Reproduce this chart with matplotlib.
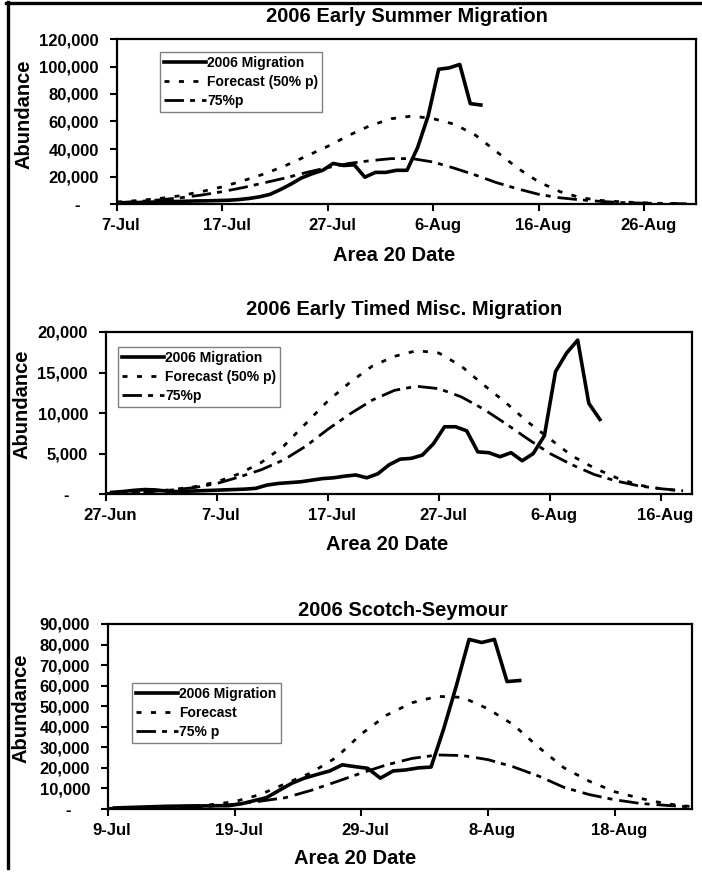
import matplotlib
matplotlib.use('Agg')
import matplotlib.pyplot as plt
import matplotlib.transforms as mtransforms
from matplotlib.lines import Line2D
import numpy as np
import pandas as pd

plt.rcParams['font.family'] = ['Liberation Sans', 'DejaVu Sans']
plt.rcParams['font.weight'] = 'bold'

# ---- 2006 Early Summer (start 7-Jul) ----
es_start = '2006-07-07'
es_mig = [800, 1000, 1200, 1400, 1600, 1800, 2000, 2200, 2300, 2500,
          2700, 3200, 4000, 5200, 7000, 10500, 14500, 19000, 22000, 24500,
          29500, 28000, 28500, 19500, 23000, 23000, 24500, 24500, 41000, 64000,
          98000, 99000, 101500, 73000, 72000]
es_fc = [1500, 2500, 4000, 6000, 9000, 12500, 17000, 22000, 28000, 35000,
         42000, 50000, 57000, 62000, 64000, 62000, 58000, 50000, 38000, 26000,
         16000, 9000, 4500, 2500, 1500, 800, 400, 300]
es_75 = [1000, 1800, 3000, 4500, 6500, 9000, 12000, 15500, 19000, 23000,
         26500, 29500, 31500, 33000, 33000, 30500, 26000, 21000, 15500, 11000,
         7000, 4500, 3000, 1800, 1000, 600, 300, 200]

# ---- 2006 Early Timed Misc. (start 27-Jun) ----
et_start = '2006-06-27'
et_mig = [200, 300, 450, 550, 500, 350, 300, 350, 400, 450,
          500, 550, 600, 700, 1100, 1300, 1400, 1500, 1700, 1900,
          2000, 2200, 2350, 2000, 2500, 3600, 4300, 4400, 4800, 6200,
          8300, 8300, 7800, 5200, 5100, 4600, 5100, 4100, 5000, 7200,
          15100, 17400, 19000, 11200, 9200]
et_fc = [50, 150, 300, 550, 900, 1500, 2500, 3900, 5900, 8700,
         11500, 13800, 15800, 17000, 17700, 17400, 15800, 13500, 11300, 8900,
         6800, 4700, 3200, 2000, 1100, 650, 350]
et_75 = [50, 150, 300, 500, 800, 1300, 2100, 3000, 4200, 5900,
         8000, 9900, 11600, 12800, 13300, 13000, 12000, 10500, 8700, 6800,
         5000, 3600, 2400, 1600, 1000, 650, 400]

# ---- 2006 Scotch-Seymour (start 9-Jul) ----
ss_start = '2006-07-09'
ss_mig = [500, 700, 900, 1100, 1300, 1400, 1500, 1500, 1600, 1600,
          2500, 4000, 5500, 9000, 12500, 15000, 16800, 18500, 21500, 20600,
          19800, 15000, 18500, 19000, 20000, 20400, 39000, 60000, 82500, 81000,
          82500, 62000, 62500]
ss_fc = [300, 500, 800, 1200, 2000, 3600, 7000, 12300, 17500, 25000,
         36500, 45700, 51700, 54800, 54300, 48700, 41000, 30000, 20000, 13500,
         8400, 5200, 2600, 1200]
ss_75 = [200, 300, 500, 800, 1300, 2300, 3800, 5500, 9000, 13200,
         17500, 21500, 24600, 26300, 26000, 24000, 20500, 16000, 10500, 7000,
         4500, 2700, 1800, 1000]

panels = [
    dict(title='2006 Early Summer Migration', start=es_start, mig=es_mig, fc=es_fc, p75=es_75,
         labels=['2006 Migration', 'Forecast (50% p)', '75%p'],
         ymax=120000, ystep=20000, xdays=54.9,
         box=(117, 39, 696, 204), title_xy=(407, 17), xlab_xy=(394, 255), ylab_xy=(24, 114),
         leg=(0.074, 0.921)),
    dict(title='2006 Early Timed Misc. Migration', start=et_start, mig=et_mig, fc=et_fc, p75=et_75,
         labels=['2006 Migration', 'Forecast (50% p)', '75%p'],
         ymax=20000, ystep=5000, xdays=52.8,
         box=(106, 332, 692, 494), title_xy=(404, 309), xlab_xy=(387, 545), ylab_xy=(22, 404),
         leg=(0.020, 0.907)),
    dict(title='2006 Scotch-Seymour', start=ss_start, mig=ss_mig, fc=ss_fc, p75=ss_75,
         labels=['2006 Migration', 'Forecast', '75% p'],
         ymax=90000, ystep=10000, xdays=46.1,
         box=(108, 624, 692, 809), title_xy=(403, 611), xlab_xy=(355, 859), ylab_xy=(21, 708),
         leg=(0.041, 0.681)),
]

W, H = 702, 873
fig = plt.figure(figsize=(W / 100, H / 100), dpi=100)

fc_dash = (0, (1.8, 3.4))
p75_dash = (0, (7.0, 2.2, 1.8, 2.5))

for p in panels:
    l, t, r, b = p['box']
    ax = fig.add_axes([l / W, 1 - b / H, (r - l) / W, (b - t) / H])
    start = pd.Timestamp(p['start'])
    mig_x = pd.date_range(start, periods=len(p['mig']), freq='D') + pd.Timedelta(hours=12)
    fc_x = pd.date_range(start, periods=len(p['fc']), freq='2D')

    h1, = ax.plot(mig_x, p['mig'], color='black', lw=2.6, solid_joinstyle='round')
    h2, = ax.plot(fc_x, p['fc'], color='black', lw=2.0, linestyle=fc_dash)
    h3, = ax.plot(fc_x, p['p75'], color='black', lw=2.0, linestyle=p75_dash)

    ax.set_xlim(start, start + pd.Timedelta(days=p['xdays']))
    ax.set_ylim(0, p['ymax'])

    xt = pd.date_range(start, start + pd.Timedelta(days=p['xdays']), freq='10D')
    ax.set_xticks(xt)
    ax.set_xticklabels([f"{d.day}-{d.strftime('%b')}" for d in xt])
    yt = np.arange(0, p['ymax'] + 1, p['ystep'])
    ax.set_yticks(yt)
    ax.set_yticklabels(['-    '] + [f'{v:,}' for v in yt[1:]])

    ax.tick_params(axis='both', direction='out', length=5, width=1.5, labelsize=12)
    ax.tick_params(axis='y', pad=8)
    ax.tick_params(axis='x', pad=5)
    offset = mtransforms.ScaledTranslation(4 / 100, 0, fig.dpi_scale_trans)
    for lab in ax.get_xticklabels():
        lab.set_transform(lab.get_transform() + offset)
    for s in ax.spines.values():
        s.set_linewidth(1.6)

    leg = ax.legend([h1, h2, h3], p['labels'], loc='upper left', bbox_to_anchor=p['leg'],
                    fontsize=10, handlelength=3.0, handletextpad=0.1, labelspacing=0.35,
                    borderpad=0.3, borderaxespad=0, fancybox=False, framealpha=1,
                    edgecolor='#808080')
    leg.get_frame().set_linewidth(1.0)

    fig.text(p['title_xy'][0] / W, 1 - p['title_xy'][1] / H, p['title'],
             ha='center', va='center', fontsize=14.5, fontweight='bold')
    fig.text(p['xlab_xy'][0] / W, 1 - p['xlab_xy'][1] / H, 'Area 20 Date',
             ha='center', va='center', fontsize=14.5, fontweight='bold')
    fig.text(p['ylab_xy'][0] / W, 1 - p['ylab_xy'][1] / H, 'Abundance',
             ha='center', va='center', rotation=90, fontsize=14.5, fontweight='bold')

# page border of the scan
fig.add_artist(Line2D([6 / W, 1], [1 - 3 / H, 1 - 3 / H], color='black', lw=2.4))
fig.add_artist(Line2D([7.5 / W, 7.5 / W], [1 - 2 / H, 1 - 868 / H], color='black', lw=2.4))

fig.savefig('out.png', dpi=100)
